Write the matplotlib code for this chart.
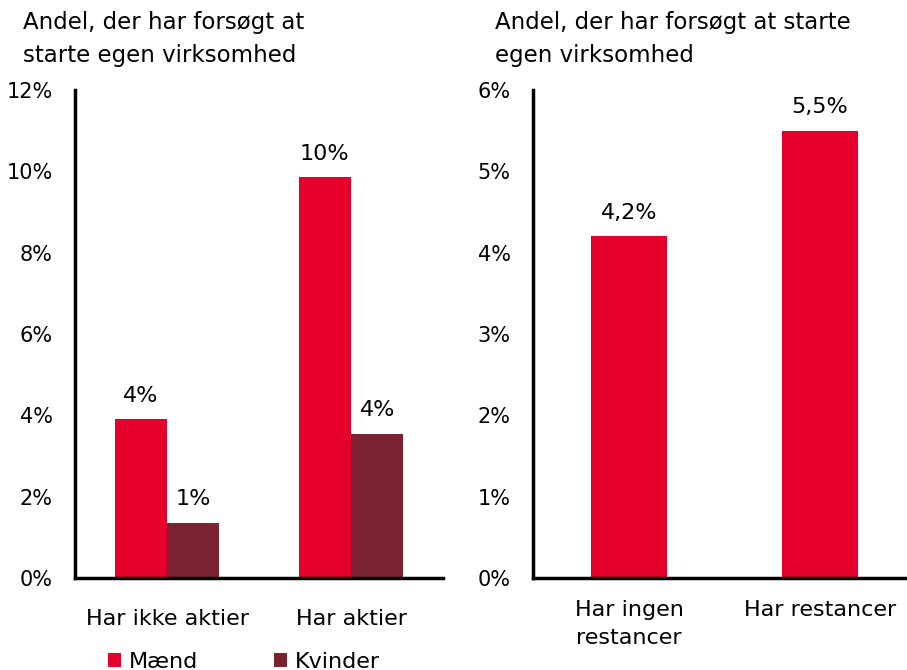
import matplotlib.pyplot as plt
import numpy as np

# data
groups_left = ['Har ikke aktier', 'Har aktier']
maend = [3.9, 9.85]
kvinder = [1.35, 3.55]
labels_maend = ['4%', '10%']
labels_kvinder = ['1%', '4%']

groups_right = ['Har ingen\nrestancer', 'Har restancer']
restancer = [4.2, 5.5]
labels_right = ['4,2%', '5,5%']

yticks_left = [0, 2, 4, 6, 8, 10, 12]
yticks_right = [0, 1, 2, 3, 4, 5, 6]
ylabel_text = 'Andel, der har forsøgt at\nstarte egen virksomhed'
ylabel_text_r = 'Andel, der har forsøgt at starte\negen virksomhed'

red = '#E4002B'
darkred = '#7A2230'
fs = 16

plt.rcParams['font.family'] = ['DejaVu Sans']

W, H = 907, 670
fig = plt.figure(figsize=(W / 100, H / 100), dpi=100)


def box(x0, x1, ytop, ybot):
    return [x0 / W, 1 - ybot / H, (x1 - x0) / W, (ybot - ytop) / H]


def style(ax, ticks, xpad):
    for s in ['top', 'right']:
        ax.spines[s].set_visible(False)
    for s in ['left', 'bottom']:
        ax.spines[s].set_linewidth(2.5)
        ax.spines[s].set_color('black')
    ax.set_yticks(ticks)
    ax.set_yticklabels(['%d%%' % t for t in ticks], fontsize=15)
    ax.tick_params(axis='y', length=0, pad=16)
    ax.tick_params(axis='x', length=0, pad=xpad, labelsize=fs)


# left panel
ax1 = fig.add_axes(box(75, 443, 90, 578))
x = np.arange(len(groups_left))
bw = 0.284
b1 = ax1.bar(x - bw / 2, maend, bw, color=red, label='Mænd')
b2 = ax1.bar(x + bw / 2, kvinder, bw, color=darkred, label='Kvinder')
ax1.set_xlim(-0.5, 1.5)
ax1.set_ylim(0, 12)
style(ax1, yticks_left, 22)
ax1.set_xticks(x)
ax1.set_xticklabels(groups_left)
for bars, labs in [(b1, labels_maend), (b2, labels_kvinder)]:
    for b, lab in zip(bars, labs):
        ax1.annotate(lab, (b.get_x() + b.get_width() / 2, b.get_height()),
                     xytext=(0, 10), textcoords='offset points',
                     ha='center', va='bottom', fontsize=fs)
fig.text(23 / W, 1 - 11 / H, ylabel_text, fontsize=16.5, va='top', ha='left',
         linespacing=1.55)
ax1.legend(loc='upper left', bbox_to_anchor=(97 / W, 1 - 641 / H),
           bbox_transform=fig.transFigure, ncol=2, frameon=False,
           fontsize=fs, handlelength=0.6, handleheight=0.6,
           handletextpad=0.35, columnspacing=3.4, borderpad=0)

# right panel
ax2 = fig.add_axes(box(533, 905, 90, 578))
x2 = np.arange(len(groups_right))
b3 = ax2.bar(x2, restancer, 0.4, color=red)
ax2.set_xlim(-0.503, 1.445)
ax2.set_ylim(0, 6)
style(ax2, yticks_right, 16)
ax2.set_xticks(x2)
ax2.set_xticklabels(groups_right, va='top', linespacing=1.5)
for b, lab in zip(b3, labels_right):
    ax2.annotate(lab, (b.get_x() + b.get_width() / 2, b.get_height()),
                 xytext=(0, 10), textcoords='offset points',
                 ha='center', va='bottom', fontsize=fs)
fig.text(495 / W, 1 - 11 / H, ylabel_text_r, fontsize=16.5, va='top', ha='left',
         linespacing=1.55)

fig.savefig('out.png', dpi=100)
